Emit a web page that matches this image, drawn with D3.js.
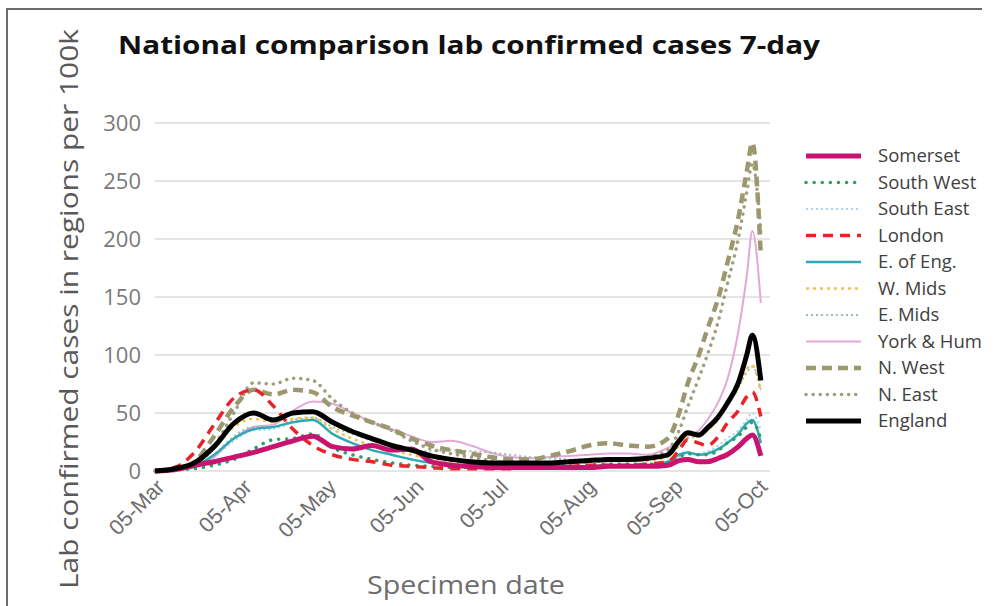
<!DOCTYPE html>
<html>
<head>
<meta charset="utf-8">
<script src="https://cdn.jsdelivr.net/npm/d3@7"></script>
<style>
  body { margin: 0; background: #fff; }
  svg { display: block; font-family: "Open Sans", "Noto Sans", sans-serif; }
</style>
</head>
<body>
<svg width="995" height="606"></svg>
<script>
// weekly-ish sample dates (2020), tighter near the end
var dates = ["03-05","03-12","03-19","03-26","04-02","04-09","04-16","04-23","04-30",
  "05-07","05-14","05-21","05-28","06-04","06-11","06-18","06-25","07-02","07-09",
  "07-16","07-23","07-30","08-06","08-13","08-20","08-27","09-03","09-07","09-10",
  "09-14","09-17","09-21","09-24","09-28","10-01","10-03","10-06"];

var somerset  = [0,1,5,8,12,16,21,26,30,21,19,22,18,19,8,5,4,3,3,3,3,3,3,4,4,4,5,9,10,8,8,11,14,21,28,31,13];
var southWest = [0,1,2,5,10,19,27,28,32,20,14,10,7,5,4,3,3,3,3,3,3,4,5,6,6,6,7,12,15,14,14,18,24,30,38,42,28];
var southEast = [0,1,3,12,26,35,36,42,46,32,24,18,14,10,7,5,4,3,3,3,3,3,4,4,5,5,7,12,15,15,17,22,28,35,44,50,35];
var london    = [0,3,16,40,63,70,56,36,22,14,10,8,5,4,3,2,2,2,2,3,3,4,5,5,5,6,8,18,27,24,22,30,41,52,64,68,47];
var eastEng   = [0,1,4,14,28,36,38,42,44,32,24,18,14,10,7,5,4,3,3,3,3,4,4,5,5,5,8,14,16,14,15,19,24,32,41,44,24];
var wMids     = [0,1,6,20,38,45,42,45,46,36,28,22,18,14,10,7,6,5,5,5,6,7,8,9,9,9,12,22,30,30,35,45,58,72,88,91,68];
var eMids     = [0,1,4,14,30,38,38,44,46,38,32,26,22,18,17,18,17,16,14,12,11,10,10,10,10,10,13,22,28,30,35,45,58,72,85,90,70];
var yorkHum   = [0,1,3,12,28,38,40,52,60,58,50,42,36,30,25,26,22,16,12,11,12,13,14,15,15,14,20,25,30,35,44,60,78,120,168,207,145];
var nWest     = [0,2,8,30,55,70,66,70,68,55,48,42,36,28,22,18,15,12,10,10,13,17,22,24,22,21,28,50,75,100,122,150,178,218,258,283,185];
var nEast     = [0,1,4,22,50,76,75,80,78,62,50,42,35,26,19,15,12,9,7,6,6,7,8,9,10,12,18,35,55,80,100,130,160,200,240,265,205];
var england   = [0,2,7,21,41,50,44,50,51,42,34,28,22,18,13,10,8,7,7,7,7,8,9,10,10,11,14,26,33,31,37,47,58,76,100,117,78];

var names = ["Somerset","South West","South East","London","E. of Eng.","W. Mids","E. Mids","York & Hum","N. West","N. East","England"];
var values = [somerset, southWest, southEast, london, eastEng, wMids, eMids, yorkHum, nWest, nEast, england];
var yTicks = [0,50,100,150,200,250,300];
var xTicks = ["03-05","04-05","05-05","06-05","07-05","08-05","09-05","10-05"];

// line styles per series
var styles = [
  {c:"#c8146e", w:5, d:null},
  {c:"#2e9e6a", w:3.5, d:"0.1,8", cap:"round"},
  {c:"#a8d6ee", w:2, d:"2,3"},
  {c:"#e8232a", w:3.5, d:"10,7"},
  {c:"#2fa9b5", w:2.5, d:null},
  {c:"#f5c04a", w:2.5, d:"3,4"},
  {c:"#9cbcae", w:2, d:"2,3"},
  {c:"#e3a8d8", w:2, d:null},
  {c:"#9d9770", w:4.5, d:"10,6"},
  {c:"#a09e7e", w:3.5, d:"0.1,7", cap:"round"},
  {c:"#000000", w:5, d:null}
];

var parse = d3.timeParse("%Y-%m-%d");
var svg = d3.select("svg");

var x = d3.scaleTime()
  .domain([parse("2020-03-05"), parse("2020-10-05")])
  .range([155, 758]);
var y = d3.scaleLinear().domain([0, 300]).range([471, 123]);

// frame
svg.append("path").attr("d", "M7,620 V9 H982")
  .attr("fill", "none").attr("stroke", "#6b6b6b").attr("stroke-width", 2);

// gridlines
svg.append("g").selectAll("line").data(yTicks).join("line")
  .attr("x1", 155).attr("x2", 770)
  .attr("y1", d => y(d)).attr("y2", d => y(d))
  .attr("stroke", "#dcdcdc").attr("stroke-width", 1.5);

// y axis
var yAxis = svg.append("g").attr("transform", "translate(145,0)")
  .call(d3.axisLeft(y).tickValues(yTicks).tickSize(0).tickPadding(4));
yAxis.select(".domain").remove();
yAxis.selectAll("text").attr("font-size", 22).attr("fill", "#7a7a7a")
  .attr("font-family", "Open Sans, sans-serif");

// x axis
var fmt = d3.timeFormat("%d-%b");
var xAxis = svg.append("g").attr("transform", "translate(0,478)")
  .call(d3.axisBottom(x).tickValues(xTicks.map(d => parse("2020-" + d))).tickFormat(fmt).tickSize(0));
xAxis.select(".domain").remove();
xAxis.selectAll("text")
  .attr("font-size", 21.5).attr("fill", "#6e6e6e")
  .attr("text-anchor", "end")
  .attr("y", 0).attr("dy", "0.35em").attr("dx", "0")
  .attr("transform", "translate(5,5) rotate(-45)");

// lines
var line = d3.line()
  .x((d, i) => x(parse("2020-" + dates[i])))
  .y(d => y(d))
  .curve(d3.curveMonotoneX);

var order = [7, 2, 6, 5, 4, 1, 9, 8, 3, 0, 10];
order.forEach(function(k) {
  var s = styles[k];
  svg.append("path").datum(values[k])
    .attr("d", line)
    .attr("fill", "none")
    .attr("stroke", s.c)
    .attr("stroke-width", s.w)
    .attr("stroke-linecap", s.cap || "butt")
    .attr("stroke-linejoin", "round")
    .attr("stroke-dasharray", s.d);
});

// legend
var leg = svg.append("g");
names.forEach(function(n, i) {
  var s = styles[i];
  var yy = 156 + i * 26.5;
  leg.append("line").attr("x1", 806).attr("x2", 861).attr("y1", yy).attr("y2", yy)
    .attr("stroke", s.c).attr("stroke-width", s.w)
    .attr("stroke-linecap", s.cap || "butt")
    .attr("stroke-dasharray", s.d);
  leg.append("text").attr("x", 878).attr("y", yy).attr("dy", "0.35em")
    .attr("font-size", 18.5).attr("fill", "#404040").text(n);
});

// titles
svg.append("text").attr("x", 118).attr("y", 54)
  .attr("font-size", 25).attr("font-weight", "bold").attr("fill", "#111")
  .attr("textLength", 702).attr("lengthAdjust", "spacingAndGlyphs")
  .text("National comparison lab confirmed cases 7-day");

svg.append("text").attr("transform", "translate(78,309) rotate(-90)")
  .attr("text-anchor", "middle").attr("font-size", 26).attr("fill", "#595959")
  .attr("textLength", 560).attr("lengthAdjust", "spacingAndGlyphs")
  .text("Lab confirmed cases in regions per 100k");

svg.append("text").attr("x", 466).attr("y", 594)
  .attr("text-anchor", "middle").attr("font-size", 25).attr("fill", "#6e6e6e")
  .attr("textLength", 198).attr("lengthAdjust", "spacingAndGlyphs")
  .text("Specimen date");
</script>
</body>
</html>
